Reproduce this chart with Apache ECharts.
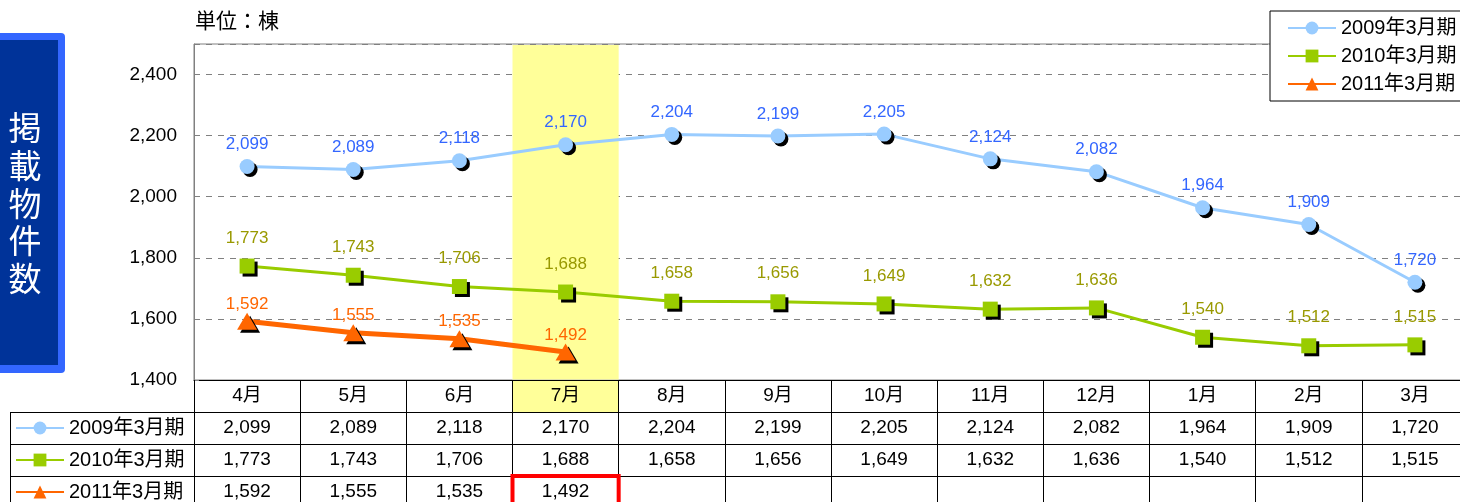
<!DOCTYPE html>
<html><head><meta charset="utf-8">
<script src="https://cdn.jsdelivr.net/npm/echarts@6/dist/echarts.min.js"></script>
<style>html,body{margin:0;padding:0;background:#fff;overflow:hidden;width:1460px;height:502px}#c{width:1470px;height:502px}</style>
</head><body><div id="c"></div>
<script>
const categories = ['4月','5月','6月','7月','8月','9月','10月','11月','12月','1月','2月','3月'];
const seriesNames = ['2009年3月期','2010年3月期','2011年3月期'];
const fy2009 = [2099,2089,2118,2170,2204,2199,2205,2124,2082,1964,1909,1720];
const fy2010 = [1773,1743,1706,1688,1658,1656,1649,1632,1636,1540,1512,1515];
const fy2011 = [1592,1555,1535,1492];
const yMin = 1400, yMax = 2500, yInterval = 200;
const unitLabel = '単位：棟';
const sideTitle = '掲載物件数';
const highlightMonth = '7月';

const FONT = '"Liberation Sans", Arial, "Noto Sans CJK JP", sans-serif';
const fmt = v => (v == null ? '' : Number(v).toLocaleString('en-US'));
const GRID = {left:194, top:44, width:1274, height:336};
const ROW = 32;

const chart = echarts.init(document.getElementById('c'), null, {renderer:'canvas'});
const shadow = {shadowColor:'#000', shadowOffsetX:3, shadowOffsetY:3, shadowBlur:0};

function tableAxis(offset, values) {
  return {
    type:'category', data:categories, gridIndex:0, position:'bottom', offset:offset,
    boundaryGap:true,
    axisLine:{show:true, lineStyle:{color:'#000', width:1}},
    axisTick:{show:true, interval:0, length:ROW, lineStyle:{color:'#000', width:1}},
    axisLabel:{show:true, interval:0, margin:6, fontSize:19, lineHeight:20, color:'#000', fontFamily:FONT,
      formatter: values ? ((v, i) => fmt(values[i])) : (v => v)},
    splitLine:{show:false}
  };
}

const legendCommon = {
  data: seriesNames, orient:'vertical', selectedMode:false,
  itemWidth:48, itemHeight:16,
  textStyle:{fontSize:20, lineHeight:20, color:'#000', fontFamily:FONT},
  itemStyle:{shadowColor:'rgba(0,0,0,0)', shadowOffsetX:0, shadowOffsetY:0, shadowBlur:0}
};

const option = {
  animation:false,
  backgroundColor:'#fff',
  grid:{...GRID, show:true, borderColor:'#808080', borderWidth:1, containLabel:false},
  xAxis:[tableAxis(0, null), tableAxis(ROW, fy2009), tableAxis(ROW*2, fy2010), tableAxis(ROW*3, fy2011)],
  yAxis:{
    type:'value', min:yMin, max:yMax, interval:yInterval,
    axisLine:{show:true, lineStyle:{color:'#808080'}},
    axisTick:{show:true, inside:true, length:5, lineStyle:{color:'#808080'}},
    axisLabel:{margin:17, fontSize:19, color:'#000', fontFamily:FONT, formatter:fmt, showMaxLabel:false},
    splitLine:{show:true, lineStyle:{color:'#808080', type:[6,6], width:1}}
  },
  legend:[
    {...legendCommon, left:1270, top:11, padding:[7,12,7,17], itemGap:8,
      backgroundColor:'#fff', borderColor:'#000', borderWidth:1},
    {...legendCommon, left:15, top:418, padding:0, itemGap:12}
  ],
  series:[
    {name:seriesNames[0], type:'line', data:fy2009, symbol:'circle', symbolSize:15, z:4,
      lineStyle:{color:'#99ccff', width:3}, itemStyle:{color:'#99ccff', ...shadow},
      label:{show:true, position:'top', distance:6, color:'#3366ff', fontSize:17, fontFamily:FONT, formatter:p=>fmt(p.value)}},
    {name:seriesNames[1], type:'line', data:fy2010, symbol:'rect', symbolSize:15, z:3,
      lineStyle:{color:'#99cc00', width:3}, itemStyle:{color:'#99cc00', ...shadow},
      label:{show:true, position:'top', distance:12, color:'#999900', fontSize:17, fontFamily:FONT, formatter:p=>fmt(p.value)}},
    {name:seriesNames[2], type:'line', data:fy2011, symbol:'triangle', symbolSize:[20,17], z:5,
      lineStyle:{color:'#ff6600', width:5}, itemStyle:{color:'#ff6600', ...shadow},
      label:{show:true, position:'top', distance:0, color:'#ff6600', fontSize:17, fontFamily:FONT, formatter:p=>fmt(p.value)}}
  ]
};
chart.setOption(option);

// layout pieces positioned from the axis scale
const hi = categories.indexOf(highlightMonth);
const xc = chart.convertToPixel({xAxisIndex:0}, categories[hi]);
const bw = chart.convertToPixel({xAxisIndex:0}, categories[hi+1]) - xc;
const x0 = xc - bw/2;
const axisY = GRID.top + GRID.height;
const lastIdx2011 = fy2011.length - 1;
const xr = chart.convertToPixel({xAxisIndex:0}, categories[lastIdx2011]) - bw/2;

const graphics = [
  // left title box
  {type:'rect', shape:{x:-10, y:33, width:75, height:340, r:4}, style:{fill:'#3366ff'}, z:0},
  {type:'rect', shape:{x:-10, y:40, width:68, height:325}, style:{fill:'#003399'}, z:1},
  {type:'text', x:25, y:109, z:2, style:{text:sideTitle.split('').join('\n'), fill:'#fff', fontSize:33, lineHeight:37.7,
    fontFamily:'"Noto Sans CJK JP", sans-serif', align:'center', verticalAlign:'top',
    textShadowColor:'#000', textShadowOffsetX:2, textShadowOffsetY:2, textShadowBlur:0}},
  // unit label
  {type:'text', x:195, y:22, style:{text:unitLabel, fill:'#000', fontSize:21, fontFamily:FONT, verticalAlign:'middle'}},
  // highlight band
  {type:'rect', shape:{x:x0, y:GRID.top+1, width:bw, height:GRID.height-1.5}, style:{fill:'#ffff99'}, z:1},
  {type:'rect', shape:{x:x0, y:axisY+1, width:bw, height:ROW-1}, style:{fill:'#ffff99'}, z:-1},
  // red box
  {type:'rect', shape:{x:xr, y:axisY+ROW*3, width:bw, height:ROW}, style:{fill:'none', stroke:'#ff0000', lineWidth:4}, z:10},
  // table left column lines
  {type:'line', shape:{x1:10, y1:axisY+ROW+0.5, x2:GRID.left, y2:axisY+ROW+0.5}, style:{stroke:'#000', lineWidth:1}},
  {type:'line', shape:{x1:10, y1:axisY+ROW*2+0.5, x2:GRID.left, y2:axisY+ROW*2+0.5}, style:{stroke:'#000', lineWidth:1}},
  {type:'line', shape:{x1:10, y1:axisY+ROW*3+0.5, x2:GRID.left, y2:axisY+ROW*3+0.5}, style:{stroke:'#000', lineWidth:1}},
  {type:'line', shape:{x1:10.5, y1:axisY+ROW, x2:10.5, y2:axisY+ROW*4}, style:{stroke:'#000', lineWidth:1}}
];
chart.setOption({graphic:graphics});
</script></body></html>
